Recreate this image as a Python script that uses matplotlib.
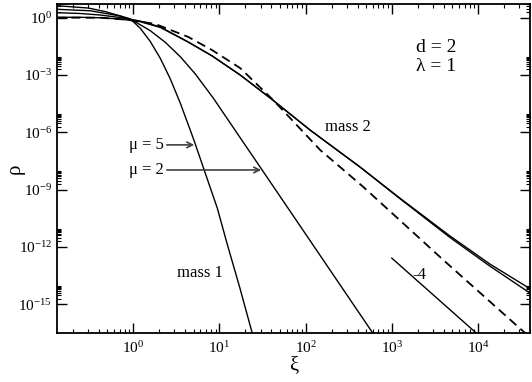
import numpy as np
import matplotlib
matplotlib.use('Agg')
import matplotlib.pyplot as plt
from matplotlib.ticker import FixedLocator, LogLocator, NullFormatter, LogFormatterSciNotation

plt.rcParams['font.family'] = 'serif'
plt.rcParams['font.serif'] = ['Liberation Serif', 'DejaVu Serif']
plt.rcParams['mathtext.fontset'] = 'stix'

# ---- data ----
# mass 1, mu = 5
xi_m1_mu5 = [0.13, 0.3, 0.47, 0.706, 0.923, 1.206, 1.575, 2.057, 2.687, 3.51,
             5.10, 7.22, 9.43, 12.3, 17.4, 24.0]
rho_m1_mu5 = [4.25, 3.2, 2.1, 1.23, 0.875, 0.279, 0.0568, 7.5e-3, 6.3e-4, 3.4e-5,
              3.5e-7, 3.6e-9, 1.09e-10, 1.42e-12, 6.25e-15, 3.1e-17]

# mass 1, mu = 2
xi_m1_mu2 = [0.13, 0.317, 0.706, 1.055, 1.575, 2.35, 3.51, 5.24, 8.47, 17.4, 30.5,
             86.5, 252, 608]
rho_m1_mu2 = [2.75, 2.30, 1.23, 0.603, 0.209, 0.0515, 9.1e-3, 1.14e-3, 6.25e-5,
              5.2e-7, 1.26e-8, 1.24e-11, 1.01e-14, 2.9e-17]

# mass 2 (two curves)
xi_m2 = [0.13, 0.243, 0.414, 0.706, 1.2, 2.06, 4.35, 8.24, 17.4, 38.8, 113, 430,
         1250, 4750, 13800, 42700]
rho_m2_a = [1.83, 1.66, 1.38, 1.02, 0.67, 0.326, 0.053, 9.9e-3, 1.0e-3, 6.25e-5,
            1.3e-6, 1.5e-8, 3.5e-10, 3.7e-12, 1.26e-13, 5.5e-15]
rho_m2_b = [1.05, 1.05, 0.99, 0.85, 0.62, 0.31, 0.053, 9.9e-3, 1.0e-3, 6.25e-5,
            1.3e-6, 1.5e-8, 3.3e-10, 3.1e-12, 9.8e-14, 3.2e-15]

# dashed curve
xi_dash = [0.13, 0.414, 0.92, 1.8, 4.35, 8.24, 17.4, 42, 148, 466, 3950, 35300, 45000]
rho_dash = [1.0, 1.0, 0.76, 0.47, 0.098, 0.020, 2.3e-3, 4.9e-5, 1.17e-7, 1.4e-9,
            2.1e-13, 3.1e-17, 1.17e-17]

# slope -4 guide
xi_guide = [1e3, 1e4]
rho_guide = [2.6e-13, 2.6e-17]

y_major = [1e0, 1e-3, 1e-6, 1e-9, 1e-12, 1e-15]

fig = plt.figure(figsize=(5.32, 3.82), dpi=100)
ax = fig.add_axes([0.107, 0.128, 0.889, 0.8615])

lw = 1.0
ax.plot(xi_m1_mu5, rho_m1_mu5, color='black', lw=lw)
ax.plot(xi_m1_mu2, rho_m1_mu2, color='black', lw=lw)
ax.plot(xi_m2, rho_m2_a, color='black', lw=lw)
ax.plot(xi_m2, rho_m2_b, color='black', lw=lw)
ax.plot(xi_dash, rho_dash, color='black', lw=1.3, ls=(0, (5, 3)))
ax.plot(xi_guide, rho_guide, color='black', lw=lw)

ax.set_xscale('log')
ax.set_yscale('log')
ax.set_xlim(0.13, 4.0e4)
ax.set_ylim(3.1e-17, 5.2)

ax.xaxis.set_major_locator(LogLocator(base=10, numticks=20))
ax.xaxis.set_minor_locator(LogLocator(base=10, subs=np.arange(2, 10), numticks=20))
ax.xaxis.set_minor_formatter(NullFormatter())
ax.yaxis.set_major_locator(FixedLocator(y_major))
ax.yaxis.set_major_formatter(LogFormatterSciNotation())
ax.yaxis.set_minor_locator(FixedLocator([k * m for m in y_major for k in range(2, 10)]))
ax.yaxis.set_minor_formatter(NullFormatter())

ax.tick_params(which='both', direction='in', top=True, right=True, labelsize=11)
ax.tick_params(which='major', length=7, width=1.0)
ax.tick_params(which='minor', length=3.2, width=0.8)
ax.tick_params(axis='x', which='major', pad=5)
for s in ax.spines.values():
    s.set_linewidth(1.3)

ax.set_xlabel('ξ', fontsize=15, labelpad=0)
ax.set_ylabel('ρ', fontsize=15)
ax.yaxis.set_label_coords(-0.068, 0.5)

# annotations
arrow = dict(arrowstyle='->', color='#404040', lw=1.2, shrinkA=0, shrinkB=0)
ax.annotate('', xy=(5.1, 2.2e-7), xytext=(2.45, 2.2e-7), arrowprops=arrow)
ax.annotate('', xy=(30.5, 1.07e-8), xytext=(2.45, 1.07e-8), arrowprops=arrow)
ax.text(2.25, 2.2e-7, 'μ = 5', fontsize=12, ha='right', va='center')
ax.text(2.25, 1.07e-8, 'μ = 2', fontsize=12, ha='right', va='center')
ax.text(6.0, 4.3e-14, 'mass 1', fontsize=12, ha='center', va='center')
ax.text(312, 1.9e-6, 'mass 2', fontsize=12, ha='center', va='center')
ax.text(2080, 3.4e-14, '-4', fontsize=12, ha='center', va='center')
ax.text(0.801, 0.869, 'd = 2', fontsize=14, ha='center', va='center', transform=ax.transAxes)
ax.text(0.801, 0.809, 'λ = 1', fontsize=14, ha='center', va='center', transform=ax.transAxes)

fig.savefig('out.png', dpi=100)
